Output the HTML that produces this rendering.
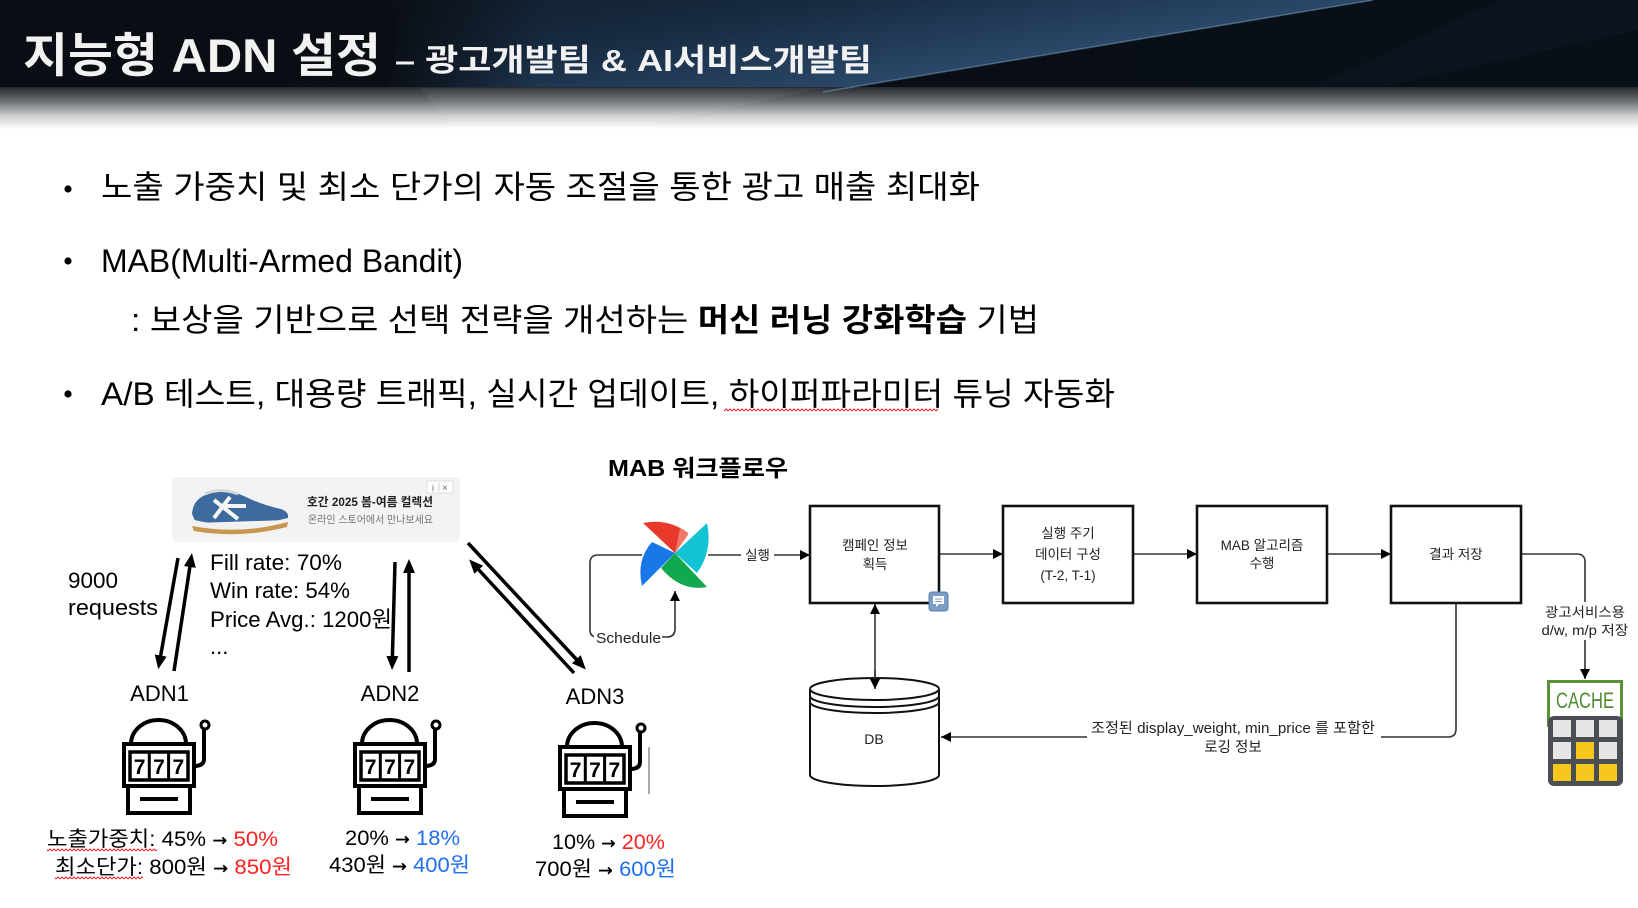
<!DOCTYPE html>
<html><head><meta charset="utf-8">
<style>
html,body{margin:0;padding:0;background:#fff;}
svg{display:block;}
text{font-family:"Liberation Sans","Noto Sans CJK KR",sans-serif;}
.ar{font-family:"DejaVu Sans",sans-serif;}
</style></head>
<body>
<svg width="1638" height="908" viewBox="0 0 1638 908" xmlns="http://www.w3.org/2000/svg">
<defs>
 <linearGradient id="fade" x1="0" y1="0" x2="0" y2="1">
  <stop offset="0" stop-color="#262a30"/>
  <stop offset="0.3" stop-color="#62666b"/>
  <stop offset="0.7" stop-color="#cfd0d2"/>
  <stop offset="1" stop-color="#ffffff"/>
 </linearGradient>
 <linearGradient id="band" x1="0" y1="0" x2="1" y2="0">
  <stop offset="0" stop-color="#0a0e14"/>
  <stop offset="1" stop-color="#090f17"/>
 </linearGradient>
 <linearGradient id="streak" gradientUnits="userSpaceOnUse" x1="967" y1="-134" x2="1000" y2="63">
  <stop offset="0" stop-color="#0f1824"/>
  <stop offset="0.55" stop-color="#172a40"/>
  <stop offset="1" stop-color="#2a4868"/>
 </linearGradient>
 <linearGradient id="softL" x1="0" y1="0" x2="1" y2="0">
  <stop offset="0" stop-color="#0a0e14" stop-opacity="1"/>
  <stop offset="1" stop-color="#0a0e14" stop-opacity="0"/>
 </linearGradient>
 <pattern id="wave" width="4" height="4" patternUnits="userSpaceOnUse">
  <path d="M0,3 L2,1 L4,3" stroke="#e02020" fill="none" stroke-width="1"/>
 </pattern>
 <marker id="ah" markerWidth="10" markerHeight="10" refX="10" refY="5" orient="auto-start-reverse" markerUnits="userSpaceOnUse">
  <path d="M0,0 L10,5 L0,10 Z" fill="#000"/>
 </marker>
 <marker id="ahB" markerWidth="14" markerHeight="12" refX="1" refY="6" orient="auto" markerUnits="userSpaceOnUse">
  <path d="M0,0 L14,6 L0,12 Z" fill="#000"/>
 </marker>
</defs>

<!-- HEADER -->
<rect x="0" y="0" width="1638" height="89" fill="url(#band)"/>
<path d="M392,0 L1373,0 L823,92 L386,92 Q402,45 392,0 Z" fill="url(#streak)"/>
<rect x="380" y="0" width="160" height="92" fill="url(#softL)"/>
<path d="M1500,0 L1638,0 L1638,30 L1360,92 L1300,92 Z" fill="#0e1824" opacity="0.6"/>
<rect x="0" y="87" width="1638" height="42" fill="url(#fade)"/>
<path d="M420,88 L823,88 L650,125 L450,125 Z" fill="#ffffff" opacity="0.06"/>
<line x1="1373" y1="0" x2="823" y2="92" stroke="#7da2c9" stroke-width="1.5" opacity="0.5"/>

<text x="23" y="72" font-size="47" font-weight="700" fill="#f2f2f2" textLength="358" lengthAdjust="spacingAndGlyphs">지능형 ADN 설정</text>
<text x="395" y="71" font-size="31" font-weight="700" fill="#f2f2f2" textLength="477" lengthAdjust="spacingAndGlyphs">– 광고개발팀 &amp; AI서비스개발팀</text>

<!-- BULLETS -->
<circle cx="68" cy="189" r="3.6" fill="#000"/>
<text x="101" y="198" font-size="32" fill="#000" textLength="879" lengthAdjust="spacingAndGlyphs">노출 가중치 및 최소 단가의 자동 조절을 통한 광고 매출 최대화</text>

<circle cx="68" cy="261" r="3.6" fill="#000"/>
<text x="101" y="272" font-size="32" fill="#000" textLength="362" lengthAdjust="spacingAndGlyphs">MAB(Multi-Armed Bandit)</text>

<text x="131" y="331" font-size="32" fill="#000" textLength="908" lengthAdjust="spacingAndGlyphs">: 보상을 기반으로 선택 전략을 개선하는 <tspan font-weight="700">머신 러닝 강화학습</tspan> 기법</text>

<circle cx="68" cy="394" r="3.6" fill="#000"/>
<text x="101" y="405" font-size="32" fill="#000" textLength="1014" lengthAdjust="spacingAndGlyphs">A/B 테스트, 대용량 트래픽, 실시간 업데이트, 하이퍼파라미터 튜닝 자동화</text>
<rect x="724" y="408" width="214" height="4" fill="url(#wave)"/>

<!-- MAB title -->
<text x="608" y="476" font-size="23" font-weight="700" fill="#000" textLength="180" lengthAdjust="spacingAndGlyphs">MAB 워크플로우</text>

<!-- AD BANNER -->
<rect x="172" y="477" width="288" height="65" rx="6" fill="#f3f3f3"/>
<g>
 <path d="M192,514 Q193,497 212,493 Q230,489 246,497 Q262,505 281,509 Q291,513 287,520 L196,523 Z" fill="#3e6b9f"/>
 <path d="M205,494 Q220,487 238,494" stroke="#d8d8d8" stroke-width="3" fill="none"/>
 <path d="M214,500 L238,519 M230,497 L214,518 M222,506 L246,506" stroke="#f4f4f4" stroke-width="4" fill="none"/>
 <path d="M190,519 Q236,531 288,518 L288,523 Q240,536 192,527 Z" fill="#f1f1f1"/>
 <path d="M192,526 Q240,535 288,522 L287,527 Q240,539 194,531 Z" fill="#c8964f"/>
</g>
<text x="307" y="506" font-size="12" font-weight="700" fill="#222" textLength="126" lengthAdjust="spacingAndGlyphs">호간 2025 봄-여름 컬렉션</text>
<text x="308" y="523" font-size="10.5" fill="#777" textLength="125" lengthAdjust="spacingAndGlyphs">온라인 스토어에서 만나보세요</text>
<rect x="427" y="481" width="26" height="12" fill="#fff" stroke="#ddd" stroke-width="1"/>
<text x="432" y="491" font-size="9" fill="#666">i</text>
<line x1="439" y1="483" x2="439" y2="491" stroke="#ccc" stroke-width="1"/>
<text x="442" y="491" font-size="10" fill="#666">×</text>

<!-- Stats text -->
<text x="68" y="588" font-size="22" fill="#000" textLength="50" lengthAdjust="spacingAndGlyphs">9000</text>
<text x="68" y="615" font-size="22" fill="#000" textLength="90" lengthAdjust="spacingAndGlyphs">requests</text>
<text x="210" y="570" font-size="22" fill="#000" textLength="132" lengthAdjust="spacingAndGlyphs">Fill rate: 70%</text>
<text x="210" y="598" font-size="22" fill="#000" textLength="140" lengthAdjust="spacingAndGlyphs">Win rate: 54%</text>
<text x="210" y="627" font-size="22" fill="#000" textLength="182" lengthAdjust="spacingAndGlyphs">Price Avg.: 1200원</text>
<text x="210" y="654" font-size="22" fill="#000">...</text>

<!-- Thick arrows -->
<g stroke="#000" stroke-width="3.5" fill="none">
 <line x1="178" y1="558" x2="160.5" y2="656.5" marker-end="url(#ahB)"/>
 <line x1="174" y1="671" x2="190" y2="566" marker-end="url(#ahB)"/>
 <line x1="395" y1="562" x2="392.4" y2="657" marker-end="url(#ahB)"/>
 <line x1="409" y1="672" x2="409" y2="572" marker-end="url(#ahB)"/>
 <line x1="468" y1="543" x2="577" y2="660" marker-end="url(#ahB)"/>
 <line x1="574" y1="673" x2="478" y2="569" marker-end="url(#ahB)"/>
</g>

<!-- ADN labels -->
<text x="159.5" y="701" font-size="22" fill="#000" text-anchor="middle">ADN1</text>
<text x="390" y="701" font-size="22" fill="#000" text-anchor="middle">ADN2</text>
<text x="595" y="704" font-size="22" fill="#000" text-anchor="middle">ADN3</text>

<!-- Slot machines -->
<g transform="translate(122,719)" stroke="#000" fill="none" stroke-width="4">
 <path d="M9,25 A27.5,24 0 0 1 64,25"/>
 <rect x="2" y="25" width="70" height="42"/>
 <rect x="8" y="33" width="58" height="28" stroke-width="3.5"/>
 <line x1="27.3" y1="33" x2="27.3" y2="61" stroke-width="3"/>
 <line x1="46.6" y1="33" x2="46.6" y2="61" stroke-width="3"/>
 <rect x="6" y="67" width="62" height="27"/>
 <line x1="18" y1="80" x2="56" y2="80"/>
 <path d="M72,47 Q82,47 82,40 V11"/>
 <circle cx="83" cy="6" r="4" stroke-width="3"/>
 <text x="17.6" y="55" font-size="21" font-weight="700" fill="#000" stroke="none" text-anchor="middle">7</text>
 <text x="37" y="55" font-size="21" font-weight="700" fill="#000" stroke="none" text-anchor="middle">7</text>
 <text x="56.3" y="55" font-size="21" font-weight="700" fill="#000" stroke="none" text-anchor="middle">7</text>
</g>
<g transform="translate(353,719)" stroke="#000" fill="none" stroke-width="4">
 <path d="M9,25 A27.5,24 0 0 1 64,25"/>
 <rect x="2" y="25" width="70" height="42"/>
 <rect x="8" y="33" width="58" height="28" stroke-width="3.5"/>
 <line x1="27.3" y1="33" x2="27.3" y2="61" stroke-width="3"/>
 <line x1="46.6" y1="33" x2="46.6" y2="61" stroke-width="3"/>
 <rect x="6" y="67" width="62" height="27"/>
 <line x1="18" y1="80" x2="56" y2="80"/>
 <path d="M72,47 Q82,47 82,40 V11"/>
 <circle cx="83" cy="6" r="4" stroke-width="3"/>
 <text x="17.6" y="55" font-size="21" font-weight="700" fill="#000" stroke="none" text-anchor="middle">7</text>
 <text x="37" y="55" font-size="21" font-weight="700" fill="#000" stroke="none" text-anchor="middle">7</text>
 <text x="56.3" y="55" font-size="21" font-weight="700" fill="#000" stroke="none" text-anchor="middle">7</text>
</g>
<g transform="translate(558,722)" stroke="#000" fill="none" stroke-width="4">
 <path d="M9,25 A27.5,24 0 0 1 64,25"/>
 <rect x="2" y="25" width="70" height="42"/>
 <rect x="8" y="33" width="58" height="28" stroke-width="3.5"/>
 <line x1="27.3" y1="33" x2="27.3" y2="61" stroke-width="3"/>
 <line x1="46.6" y1="33" x2="46.6" y2="61" stroke-width="3"/>
 <rect x="6" y="67" width="62" height="27"/>
 <line x1="18" y1="80" x2="56" y2="80"/>
 <path d="M72,47 Q82,47 82,40 V11"/>
 <circle cx="83" cy="6" r="4" stroke-width="3"/>
 <text x="17.6" y="55" font-size="21" font-weight="700" fill="#000" stroke="none" text-anchor="middle">7</text>
 <text x="37" y="55" font-size="21" font-weight="700" fill="#000" stroke="none" text-anchor="middle">7</text>
 <text x="56.3" y="55" font-size="21" font-weight="700" fill="#000" stroke="none" text-anchor="middle">7</text>
</g>
<line x1="649" y1="747" x2="649" y2="794" stroke="#555" stroke-width="1"/>

<!-- Bottom value texts -->
<text x="47" y="846" font-size="21" fill="#000" textLength="231" lengthAdjust="spacingAndGlyphs">노출가중치: 45% <tspan class="ar" font-size="17" font-weight="700">→</tspan> <tspan fill="#ff2222">50%</tspan></text>
<rect x="47" y="848" width="110" height="4" fill="url(#wave)"/>
<text x="55" y="874" font-size="21" fill="#000" textLength="237" lengthAdjust="spacingAndGlyphs">최소단가: 800원 <tspan class="ar" font-size="17" font-weight="700">→</tspan> <tspan fill="#ff2222">850원</tspan></text>
<rect x="55" y="876" width="88" height="4" fill="url(#wave)"/>

<text x="345" y="845" font-size="21" fill="#000" textLength="115" lengthAdjust="spacingAndGlyphs">20% <tspan class="ar" font-size="17" font-weight="700">→</tspan> <tspan fill="#1f6ff0">18%</tspan></text>
<text x="329" y="872" font-size="21" fill="#000" textLength="141" lengthAdjust="spacingAndGlyphs">430원 <tspan class="ar" font-size="17" font-weight="700">→</tspan> <tspan fill="#1f6ff0">400원</tspan></text>

<text x="552" y="849" font-size="21" fill="#000" textLength="113" lengthAdjust="spacingAndGlyphs">10% <tspan class="ar" font-size="17" font-weight="700">→</tspan> <tspan fill="#ff2222">20%</tspan></text>
<text x="535" y="876" font-size="21" fill="#000" textLength="141" lengthAdjust="spacingAndGlyphs">700원 <tspan class="ar" font-size="17" font-weight="700">→</tspan> <tspan fill="#1f6ff0">600원</tspan></text>

<!-- WORKFLOW -->
<g>
 <path d="M675,553 L643,523 Q668,518 688,533 Z" fill="#e8392a"/>
 <path d="M675,553 L680,528 Q686,530 688,535 Z" fill="#f27768"/>
 <path d="M675,553 L707,523 Q713,551 697,573 Z" fill="#13c3d3"/>
 <path d="M675,553 L707,587 Q681,592 661,568 Z" fill="#12a84d"/>
 <path d="M675,553 L642,586 Q636,560 652,542 Z" fill="#1a77e8"/>
</g>

<g stroke="#333" stroke-width="1.6" fill="none">
 <line x1="708" y1="555" x2="810" y2="555" marker-end="url(#ah)"/>
 <path d="M642,555 H598 Q590,555 590,563 V630 Q590,637 597,637 H667 Q675,637 675,629 V591" marker-end="url(#ah)"/>
 <line x1="939" y1="554" x2="1003" y2="554" marker-end="url(#ah)"/>
 <line x1="1133" y1="554" x2="1197" y2="554" marker-end="url(#ah)"/>
 <line x1="1327" y1="554" x2="1391" y2="554" marker-end="url(#ah)"/>
 <path d="M1521,554 H1577 Q1585,554 1585,562 V679" marker-end="url(#ah)"/>
 <path d="M1456,603 V729 Q1456,737 1448,737 H941" marker-end="url(#ah)"/>
 <line x1="875" y1="604" x2="875" y2="689" marker-start="url(#ah)" marker-end="url(#ah)"/>
</g>

<rect x="741" y="546" width="33" height="18" fill="#fff"/>
<text x="757.5" y="560" font-size="13.5" fill="#222" text-anchor="middle">실행</text>
<rect x="594" y="628" width="68" height="18" fill="#fff"/>
<text x="596" y="643" font-size="15" fill="#222" textLength="65" lengthAdjust="spacingAndGlyphs">Schedule</text>

<rect x="1538" y="602" width="96" height="38" fill="#fff"/>
<text x="1585" y="617" font-size="13.5" fill="#222" text-anchor="middle" textLength="80" lengthAdjust="spacingAndGlyphs">광고서비스용</text>
<text x="1585" y="635" font-size="13.5" fill="#222" text-anchor="middle" textLength="87" lengthAdjust="spacingAndGlyphs">d/w, m/p 저장</text>

<rect x="1087" y="718" width="294" height="38" fill="#fff"/>
<text x="1233" y="733" font-size="14.5" fill="#222" text-anchor="middle" textLength="284" lengthAdjust="spacingAndGlyphs">조정된 display_weight, min_price 를 포함한</text>
<text x="1233" y="752" font-size="14.5" fill="#222" text-anchor="middle">로깅 정보</text>

<g stroke="#111" stroke-width="2.6" fill="#fff">
 <rect x="810" y="506" width="129" height="97"/>
 <rect x="1003" y="506" width="130" height="97"/>
 <rect x="1197" y="506" width="130" height="97"/>
 <rect x="1391" y="506" width="130" height="97"/>
</g>
<text x="875" y="550" font-size="13.5" fill="#222" text-anchor="middle">캠페인 정보</text>
<text x="875" y="569" font-size="13.5" fill="#222" text-anchor="middle">획득</text>
<text x="1068" y="538" font-size="13.5" fill="#222" text-anchor="middle">실행 주기</text>
<text x="1068" y="559" font-size="13.5" fill="#222" text-anchor="middle">데이터 구성</text>
<text x="1068" y="580" font-size="13.5" fill="#222" text-anchor="middle">(T-2, T-1)</text>
<text x="1262" y="550" font-size="13.5" fill="#222" text-anchor="middle">MAB 알고리즘</text>
<text x="1262" y="568" font-size="13.5" fill="#222" text-anchor="middle">수행</text>
<text x="1456" y="559" font-size="13.5" fill="#222" text-anchor="middle">결과 저장</text>

<rect x="929" y="592" width="19" height="19" rx="3" fill="#7b9dc6" stroke="#5b7fa8" stroke-width="1"/>
<path d="M933,596 H944 V604 H939 L936,607 V604 H933 Z" fill="#fff"/>
<line x1="935" y1="599" x2="942" y2="599" stroke="#7b9dc6" stroke-width="1"/>
<line x1="935" y1="601.5" x2="942" y2="601.5" stroke="#7b9dc6" stroke-width="1"/>

<g stroke="#111" stroke-width="2" fill="#fff">
 <path d="M810,689 V775 A64.5,11 0 0 0 939,775 V689" />
 <ellipse cx="874.5" cy="689" rx="64.5" ry="11"/>
 <path d="M810,696 A64.5,11 0 0 0 939,696" fill="none"/>
 <path d="M810,702 A64.5,11 0 0 0 939,702" fill="none"/>
</g>
<line x1="875" y1="670" x2="875" y2="689" stroke="#333" stroke-width="1.6" marker-end="url(#ah)"/>
<text x="874" y="744" font-size="14" fill="#222" text-anchor="middle">DB</text>

<rect x="1548.5" y="681.5" width="73" height="44" fill="#fff" stroke="#5a9238" stroke-width="3"/>
<text x="1585" y="708" font-size="22" fill="#4f8b30" text-anchor="middle" textLength="58" lengthAdjust="spacingAndGlyphs">CACHE</text>
<rect x="1548" y="716" width="75" height="70" rx="6" fill="#4b4e52"/>
<g>
 <rect x="1553" y="720" width="18" height="17" fill="#e6e6e6"/>
 <rect x="1576" y="720" width="18" height="17" fill="#e6e6e6"/>
 <rect x="1599" y="720" width="18" height="17" fill="#e6e6e6"/>
 <rect x="1553" y="742" width="18" height="17" fill="#e6e6e6"/>
 <rect x="1576" y="742" width="18" height="17" fill="#f5c71f"/>
 <rect x="1599" y="742" width="18" height="17" fill="#e6e6e6"/>
 <rect x="1553" y="764" width="18" height="17" fill="#f5c71f"/>
 <rect x="1576" y="764" width="18" height="17" fill="#f5c71f"/>
 <rect x="1599" y="764" width="18" height="17" fill="#f5c71f"/>
</g>
</svg>
</body></html>
